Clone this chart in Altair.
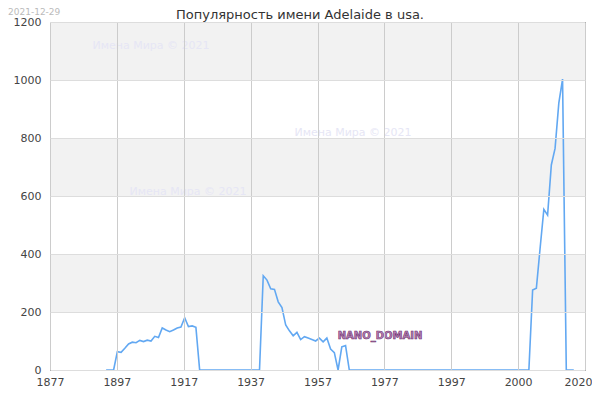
import altair as alt
import pandas as pd

# ---- data ----
years = list(range(1892, 2018))
counts = (
    [0, 0, 0, 63, 61, 75, 90, 96, 94, 102, 98, 103, 100, 116, 112, 145, 138, 132,
     138, 145, 148, 180, 150, 152, 147]
    + [0] * 17
    + [325, 310, 280, 278, 235, 215, 155, 135, 118, 130, 105, 115, 110, 105, 100,
       110, 97, 110, 72, 60, 0, 80, 84]
    + [0] * 49
    + [276, 282, 420, 554, 534, 707, 764, 920, 1003]
    + [0] * 3
)
x_tick_labels = ["1877", "1897", "1917", "1937", "1957", "1977", "1997", "2000", "2020"]
x_min, x_max = 1877, 2020
y_ticks = [0, 200, 400, 600, 800, 1000, 1200]
band_lo = [200, 600, 1000]
band_hi = [400, 800, 1200]

title_text = "Популярность имени Adelaide в usa."
date_text = "2021-12-29"
watermark = "Имена Мира © 2021"
domain_text = "NANO_DOMAIN"

df = pd.DataFrame({"year": years, "count": counts})
bands = pd.DataFrame({"lo": band_lo, "hi": band_hi})

step = (x_max - x_min) / 8
x_ticks = [x_min + k * step for k in range(9)]
label_expr = "[" + ",".join("'%s'" % s for s in x_tick_labels) + "][round((datum.value-%d)/%f)]" % (x_min, step)

xscale = alt.Scale(domain=[x_min, x_max], nice=False, zero=False)
yscale = alt.Scale(domain=[0, 1200], nice=False)

W, H = 535, 348

x_axis = alt.Axis(values=x_ticks, labelExpr=label_expr, title=None, grid=True,
                  gridColor="#cccccc", ticks=False, domain=False, labelFontSize=11,
                  labelColor="#444444", labelPadding=6, zindex=1, labelFlush=False,
                  labelOverlap=False,
                  labelOffset={"condition": {"test": "datum.value > 2019", "value": -7}, "value": 0})
y_axis = alt.Axis(values=y_ticks, title=None, grid=True, gridColor="#dddddd", format="d",
                  ticks=False, domain=False, labelFontSize=11, labelColor="#444444",
                  labelPadding=9, zindex=1, labelFlush=False, labelOverlap=False)

band_layer = alt.Chart(bands).mark_rect(color="#f2f2f2").encode(
    y=alt.Y("lo:Q", scale=yscale, axis=y_axis),
    y2="hi:Q",
    x=alt.value(0),
    x2=alt.value(W),
)

line = alt.Chart(df).mark_line(color="#62a8f2", strokeWidth=1.6).encode(
    x=alt.X("year:Q", scale=xscale, axis=x_axis),
    y=alt.Y("count:Q", scale=yscale, axis=y_axis),
)

def txt(s, x, y, **kw):
    return alt.Chart(pd.DataFrame({"t": [s]})).mark_text(font="DejaVu Sans", **kw).encode(
        text="t:N", x=alt.value(x), y=alt.value(y))

title = txt(title_text, 250, -13, fontSize=13, color="#333333", align="center", baseline="top")
date = txt(date_text, -42, -14, fontSize=9, color="#bbbbbb", align="left", baseline="top")
wm1 = txt(watermark, 101, 24, fontSize=11, color="#e6e6f5", align="center", baseline="middle")
wm2 = txt(watermark, 303, 111, fontSize=11, color="#e6e6f5", align="center", baseline="middle")
wm3 = txt(watermark, 138, 170, fontSize=11, color="#e6e6f5", align="center", baseline="middle")
nano = txt(domain_text, 330, 314, fontSize=10, fontWeight="bold", color="#b784b7",
           stroke="#6b2d6b", strokeWidth=0.6, align="center", baseline="middle")

chart = alt.layer(band_layer, wm1, wm2, wm3, line, nano, title, date).properties(
    width=W, height=H,
    autosize=alt.AutoSizeParams(type="none"),
    padding={"left": 42, "top": 14, "right": 7, "bottom": 22},
    background="white",
).configure_view(stroke="black", strokeWidth=1).configure_axis(labelFont="DejaVu Sans")

chart.save("out.html", embed_options={"renderer": "svg", "actions": False})
